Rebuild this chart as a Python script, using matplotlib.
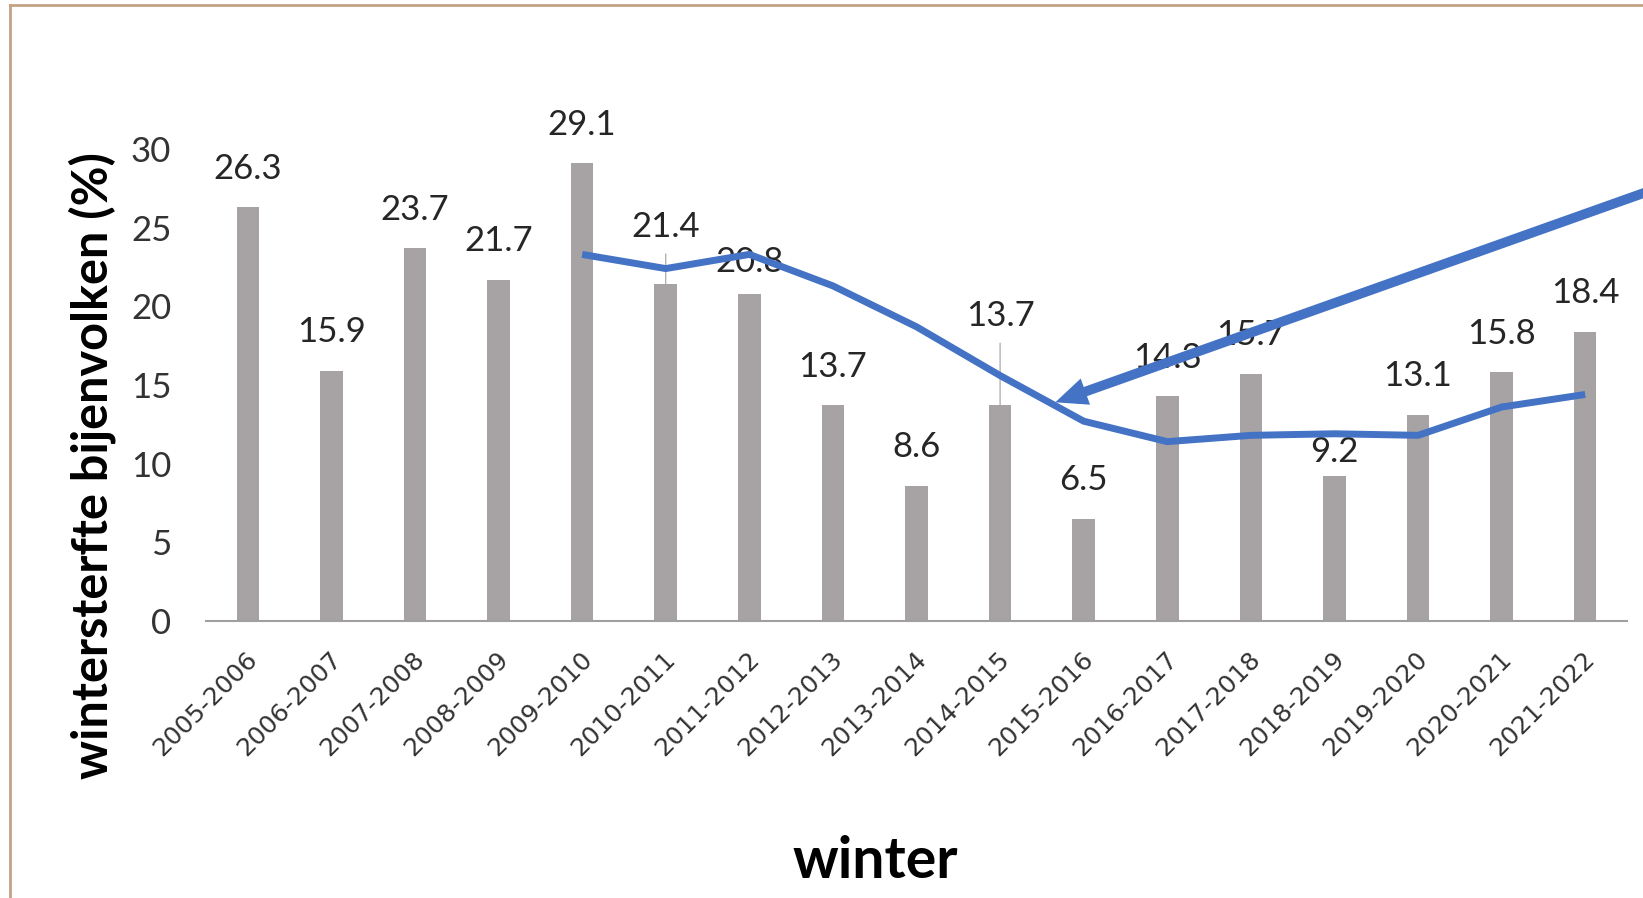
import matplotlib
matplotlib.use("Agg")
import matplotlib.pyplot as plt
from matplotlib.lines import Line2D
from matplotlib.transforms import ScaledTranslation

# Data
winters = [
    "2005-2006", "2006-2007", "2007-2008", "2008-2009", "2009-2010",
    "2010-2011", "2011-2012", "2012-2013", "2013-2014", "2014-2015",
    "2015-2016", "2016-2017", "2017-2018", "2018-2019", "2019-2020",
    "2020-2021", "2021-2022",
]
loss_pct = [26.3, 15.9, 23.7, 21.7, 29.1, 21.4, 20.8, 13.7, 8.6, 13.7,
            6.5, 14.3, 15.7, 9.2, 13.1, 15.8, 18.4]
# blue trend line (starts at 2009-2010)
trend_start = 4
trend_pct = [23.3, 22.4, 23.3, 21.3, 18.7, 15.6, 12.7, 11.4, 11.8, 11.9,
             11.8, 13.6, 14.4]

# Layout tweaks: label nudges in pixels (positive = up), and which get a leader line
label_nudge = {5: 19, 6: -7, 9: 51, 13: -14}
leader_idx = [5, 9]

BAR_COLOR = "#A7A3A4"
BLUE = "#4472C4"
TXT = "#262626"

W, H, DPI = 1643, 898, 100
fig = plt.figure(figsize=(W / DPI, H / DPI), dpi=DPI)
fig.patch.set_facecolor("white")

# plot area in pixels: x -0.5 -> 206, 16.5 -> 1627; y 0 -> 621, 30 -> 149
ax = fig.add_axes([206 / W, (H - 621) / H, (1627 - 206) / W, (621 - 149) / H])
ax.set_facecolor("none")

x = list(range(len(winters)))
ax.bar(x, loss_pct, width=0.27, color=BAR_COLOR, zorder=2)

for i, v in enumerate(loss_pct):
    off = 38.5 + label_nudge.get(i, 0)
    props = None
    if i in leader_idx:
        props = dict(arrowstyle="-", color="#A0A0A0", lw=0.8,
                     shrinkA=6, shrinkB=0)
    ax.annotate(f"{v:.1f}", xy=(i, v), xytext=(0, off),
                textcoords="offset pixels", ha="center", va="center",
                fontsize=25, family="Lato", color=TXT, zorder=3,
                annotation_clip=False, arrowprops=props)

tx = list(range(trend_start, trend_start + len(trend_pct)))
ax.plot(tx, trend_pct, color=BLUE, lw=5, solid_joinstyle="round",
        solid_capstyle="butt", zorder=4)

ax.set_xlim(-0.5, len(winters) - 0.5)
ax.set_ylim(0, 30)
ax.set_yticks(range(0, 31, 5))
for s in ("left", "right", "top"):
    ax.spines[s].set_visible(False)
ax.spines["bottom"].set_color("#A0A0A0")
ax.spines["bottom"].set_linewidth(1.5)

ax.tick_params(axis="y", length=0, pad=25, labelsize=25, labelcolor="#333333")
for t in ax.get_yticklabels():
    t.set_family("Lato")

ax.set_xticks(x)
ax.set_xticklabels(winters, rotation=45, ha="right", va="center",
                   rotation_mode="anchor", fontsize=18, color="#333333",
                   family="DejaVu Sans")
ax.tick_params(axis="x", length=0, pad=25)
shift = ScaledTranslation(6 / DPI, 0, fig.dpi_scale_trans)
for t in ax.get_xticklabels():
    t.set_transform(t.get_transform() + shift)

fig.text(92 / W, 1 - 466 / H, "wintersterfte bijenvolken (%)", rotation=90,
         ha="center", va="center", fontsize=35, fontweight="bold",
         family="Lato", color="black")
fig.text(875 / W, 1 - 861 / H, "winter", ha="center", va="center",
         fontsize=41, fontweight="bold", family="Lato", color="black")

# big blue arrow pointing at the trend line
ax.annotate("", xy=(9.66, 13.9), xycoords="data",
            xytext=(1700, H - 173), textcoords="figure pixels",
            arrowprops=dict(arrowstyle="simple,head_length=2.3,head_width=2.0,tail_width=0.7",
                            mutation_scale=10, color=BLUE, lw=0,
                            shrinkA=0, shrinkB=0),
            annotation_clip=False, zorder=5)

# frame around the picture (left and top edges visible)
fig.add_artist(Line2D([10 / W, 10 / W], [0, 1 - 5 / H], transform=fig.transFigure,
                      color="#C4A283", lw=2))
fig.add_artist(Line2D([10 / W, 1], [1 - 5 / H, 1 - 5 / H], transform=fig.transFigure,
                      color="#C4A283", lw=2))

fig.savefig("out.png", dpi=DPI)
